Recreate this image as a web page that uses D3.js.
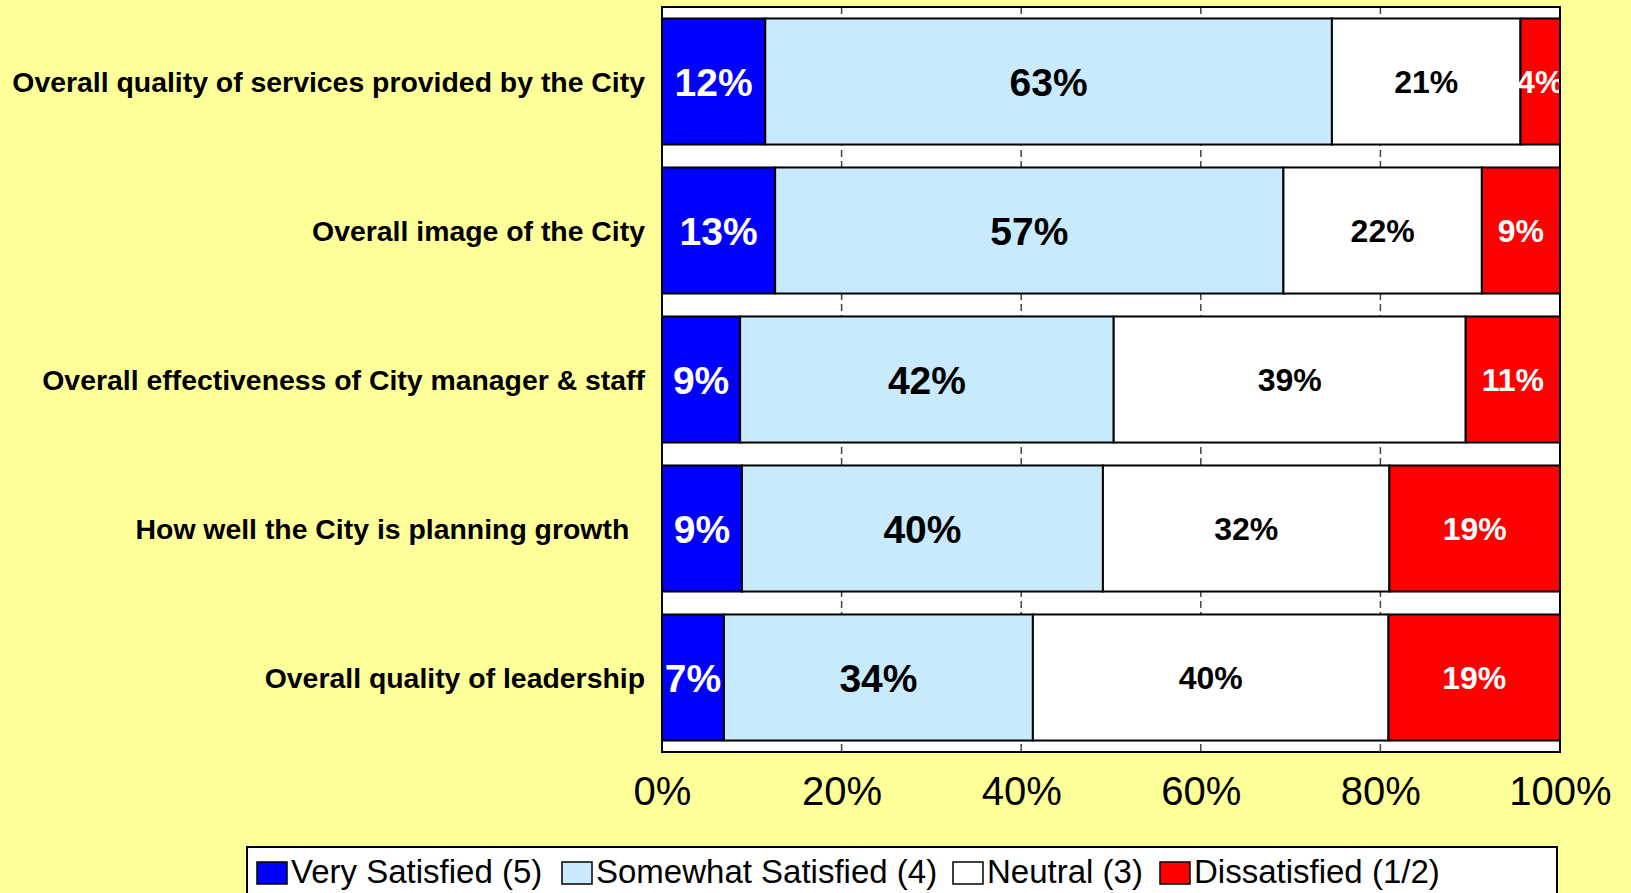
<!DOCTYPE html>
<html>
<head>
<meta charset="utf-8">
<script src="https://cdn.jsdelivr.net/npm/d3@7"></script>
<style>
  body { margin: 0; background: #FFFF99; }
  svg { display: block; font-family: "Liberation Sans", Arial, sans-serif; }
  .cat { font-size: 28.4px; font-weight: bold; white-space: pre; }
  .val { font-weight: bold; }
  .axis text { font-size: 40px; fill: #000; }
  .legend text { font-size: 33px; }
</style>
</head>
<body>
<svg width="1631" height="893"></svg>
<script>
var categories = [
  "Overall quality of services provided by the City",
  "Overall image of the City",
  "Overall effectiveness of City manager & staff",
  "How well the City is planning growth  ",
  "Overall quality of leadership"
];
var series = ["Very Satisfied (5)", "Somewhat Satisfied (4)", "Neutral (3)", "Dissatisfied (1/2)"];
var verySatisfied = [11.5, 12.6, 8.7, 8.9, 6.9];
var somewhatSatisfied = [63.1, 56.6, 41.6, 40.2, 34.4];
var neutral = [21.0, 22.1, 39.2, 31.9, 39.6];
var dissatisfied = [4.4, 8.7, 10.5, 19.0, 19.1];
var xTicks = [0, 20, 40, 60, 80, 100];

var colors = ["#0000FF", "url(#hatch)", "#FFFFFF", "#FF0000"];
var textColor = ["#fff", "#000", "#000", "#fff"];
var textSize = [39, 39, 32, 32];

var svg = d3.select("svg");
var plotL = 662, plotR = 1560, plotT = 7, plotB = 752;

var defs = svg.append("defs");
var pat = defs.append("pattern")
  .attr("id", "hatch")
  .attr("patternUnits", "userSpaceOnUse")
  .attr("width", 4)
  .attr("height", 4);
pat.append("rect").attr("width", 4).attr("height", 4).attr("fill", "#CCECFF");
pat.append("path")
  .attr("d", "M-1,1 l2,-2 M0,4 l4,-4 M3,5 l2,-2")
  .attr("stroke", "#BCE0F5")
  .attr("stroke-width", 0.8);

var rows = categories.map(function(c, i) {
  var r = {cat: c};
  r[series[0]] = verySatisfied[i];
  r[series[1]] = somewhatSatisfied[i];
  r[series[2]] = neutral[i];
  r[series[3]] = dissatisfied[i];
  return r;
});
var stacked = d3.stack().keys(series)(rows);

var x = d3.scaleLinear().domain([0, 100]).range([plotL, plotR]);
var y = d3.scaleBand().domain(categories).range([plotT, plotB])
  .paddingInner(0.154).paddingOuter(0.077);

// plot area
svg.append("rect")
  .attr("x", plotL).attr("y", plotT)
  .attr("width", plotR - plotL).attr("height", plotB - plotT)
  .attr("fill", "#fff");

svg.append("g")
  .selectAll("line")
  .data(xTicks.slice(1, -1))
  .enter()
  .append("line")
  .attr("x1", d => x(d)).attr("x2", d => x(d))
  .attr("y1", plotT).attr("y2", plotB)
  .attr("stroke", "#444")
  .attr("stroke-width", 1.5)
  .attr("stroke-dasharray", "7,4");

var layer = svg.selectAll("g.layer")
  .data(stacked)
  .enter()
  .append("g")
  .attr("class", "layer");

layer.each(function(s, k) {
  var g = d3.select(this);
  g.selectAll("rect")
    .data(s)
    .enter()
    .append("rect")
    .attr("x", d => x(d[0]))
    .attr("y", d => y(d.data.cat))
    .attr("width", d => x(d[1]) - x(d[0]))
    .attr("height", y.bandwidth())
    .attr("fill", colors[k])
    .attr("stroke", "#000")
    .attr("stroke-width", 2);
});

layer.each(function(s, k) {
  d3.select(this).selectAll("text")
    .data(s)
    .enter()
    .append("text")
    .attr("class", "val")
    .attr("x", d => x((d[0] + d[1]) / 2))
    .attr("y", d => y(d.data.cat) + y.bandwidth() / 2)
    .attr("dy", "0.36em")
    .attr("text-anchor", "middle")
    .style("font-size", textSize[k] + "px")
    .attr("fill", textColor[k])
    .text(d => Math.round(d[1] - d[0]) + "%");
});

svg.append("rect")
  .attr("x", plotL).attr("y", plotT)
  .attr("width", plotR - plotL).attr("height", plotB - plotT)
  .attr("fill", "none")
  .attr("stroke", "#000")
  .attr("stroke-width", 2);

svg.append("g")
  .selectAll("text")
  .data(categories)
  .enter()
  .append("text")
  .attr("class", "cat")
  .attr("x", 645)
  .attr("y", d => y(d) + y.bandwidth() / 2)
  .attr("dy", "0.36em")
  .attr("text-anchor", "end")
  .text(d => d);

var xAxis = svg.append("g")
  .attr("class", "axis")
  .attr("transform", "translate(0," + plotB + ")")
  .call(d3.axisBottom(x).tickValues(xTicks).tickFormat(d => d + "%").tickSize(0));
xAxis.select(".domain").remove();
xAxis.selectAll("text").attr("y", 53).attr("dy", null);

// legend
var legend = svg.append("g").attr("class", "legend");
legend.append("rect")
  .attr("x", 247).attr("y", 847)
  .attr("width", 1310).attr("height", 80)
  .attr("fill", "#fff")
  .attr("stroke", "#000")
  .attr("stroke-width", 2);

var legendX = [257, 562, 953, 1160];
var item = legend.selectAll("g.item")
  .data(series)
  .enter()
  .append("g")
  .attr("class", "item")
  .attr("transform", (d, i) => "translate(" + legendX[i] + ",0)");
item.append("rect")
  .attr("x", 0).attr("y", 862)
  .attr("width", 30).attr("height", 22)
  .attr("fill", (d, i) => colors[i])
  .attr("stroke", "#000")
  .attr("stroke-width", 1.5);
item.append("text")
  .attr("x", 34).attr("y", 883)
  .text(d => d);
</script>
</body>
</html>
